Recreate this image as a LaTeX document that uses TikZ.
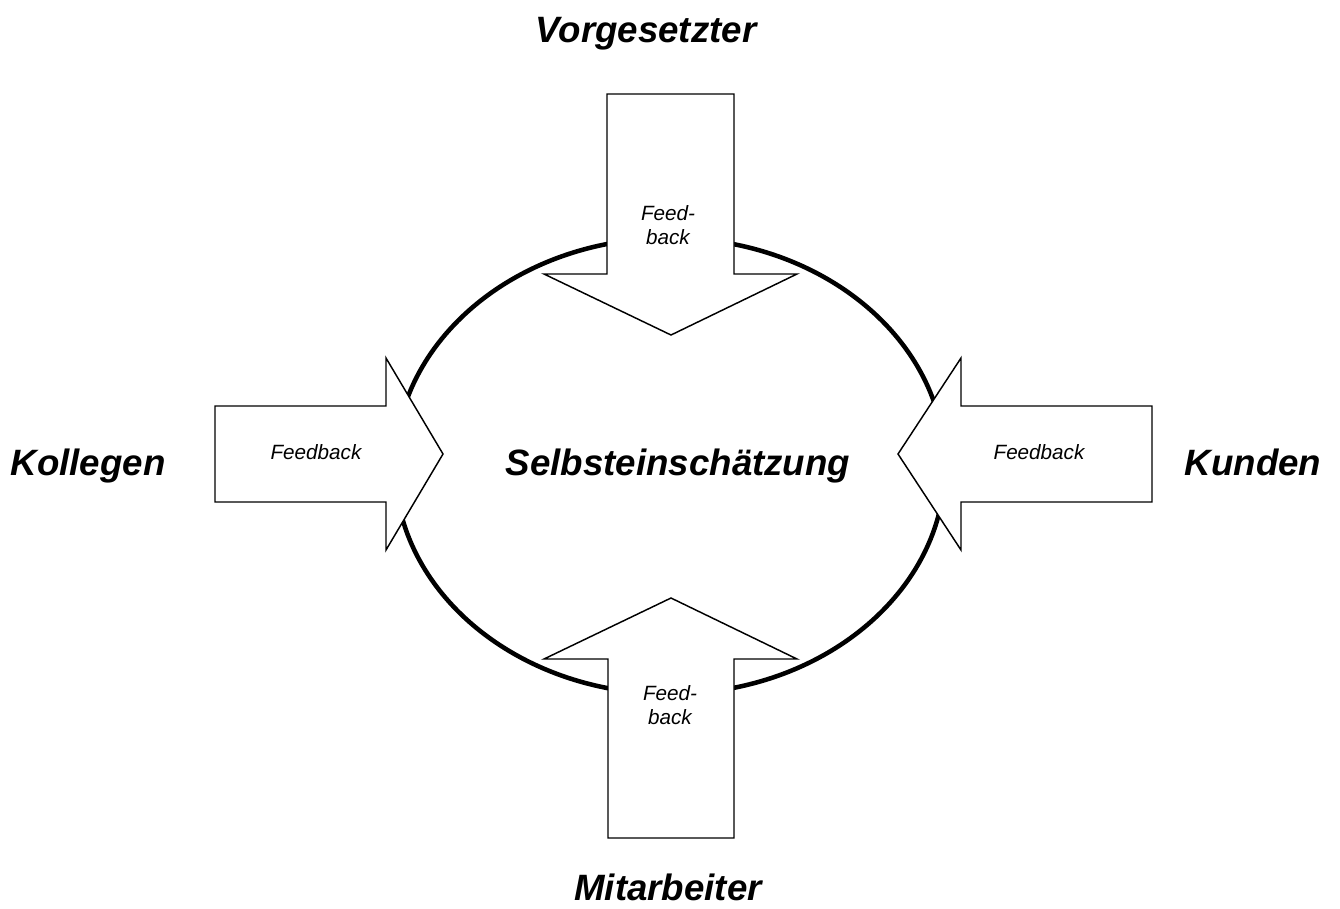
\documentclass[tikz,border=0pt]{standalone}
\usepackage{fontspec}
\setmainfont{Liberation Sans}
\begin{document}
\begin{tikzpicture}[x=0.75pt,y=-0.75pt,
  blockarrow/.style={draw=black,fill=white,line width=1.1pt,line join=miter},
  biglabel/.style={font=\fontsize{27.5}{33}\selectfont\bfseries\itshape,inner sep=0pt,anchor=base},
  fblabel/.style={font=\fontsize{15.5}{18}\selectfont\itshape,inner sep=0pt,align=center}]
\useasboundingbox (0,0) rectangle (1340,908);
\coordinate (E) at (670,466);
\draw[line width=3.4pt] (E) ellipse [x radius=275,y radius=228];
\draw[blockarrow] (607,94)--(734,94)--(734,274)--(797,274)--(671,335)--(544,274)--(607,274)--cycle;
\draw[blockarrow] (608,838)--(734,838)--(734,659)--(797,659)--(671,598)--(544,659)--(608,659)--cycle;
\draw[blockarrow] (215,406)--(386,406)--(386,358)--(443,454)--(386,550)--(386,502)--(215,502)--cycle;
\draw[blockarrow] (1152,406)--(961,406)--(961,358)--(898,454)--(961,550)--(961,502)--(1152,502)--cycle;
\node[biglabel] (self) at (678,475) {Selbsteinschätzung};
\node[biglabel] (vorg) at (646,42) {Vorgesetzter};
\node[biglabel] (mitarb) at (668,900) {Mitarbeiter};
\node[biglabel] (koll) at (88,475) {Kollegen};
\node[biglabel] (kund) at (1253,475) {Kunden};
\node[fblabel] (fbtop) at (668,225) {Feed-\\back};
\node[fblabel] (fbbot) at (670,705) {Feed-\\back};
\node[fblabel,anchor=base] (fbleft) at (316,459) {Feedback};
\node[fblabel,anchor=base] (fbright) at (1039,459) {Feedback};
\end{tikzpicture}
\end{document}
